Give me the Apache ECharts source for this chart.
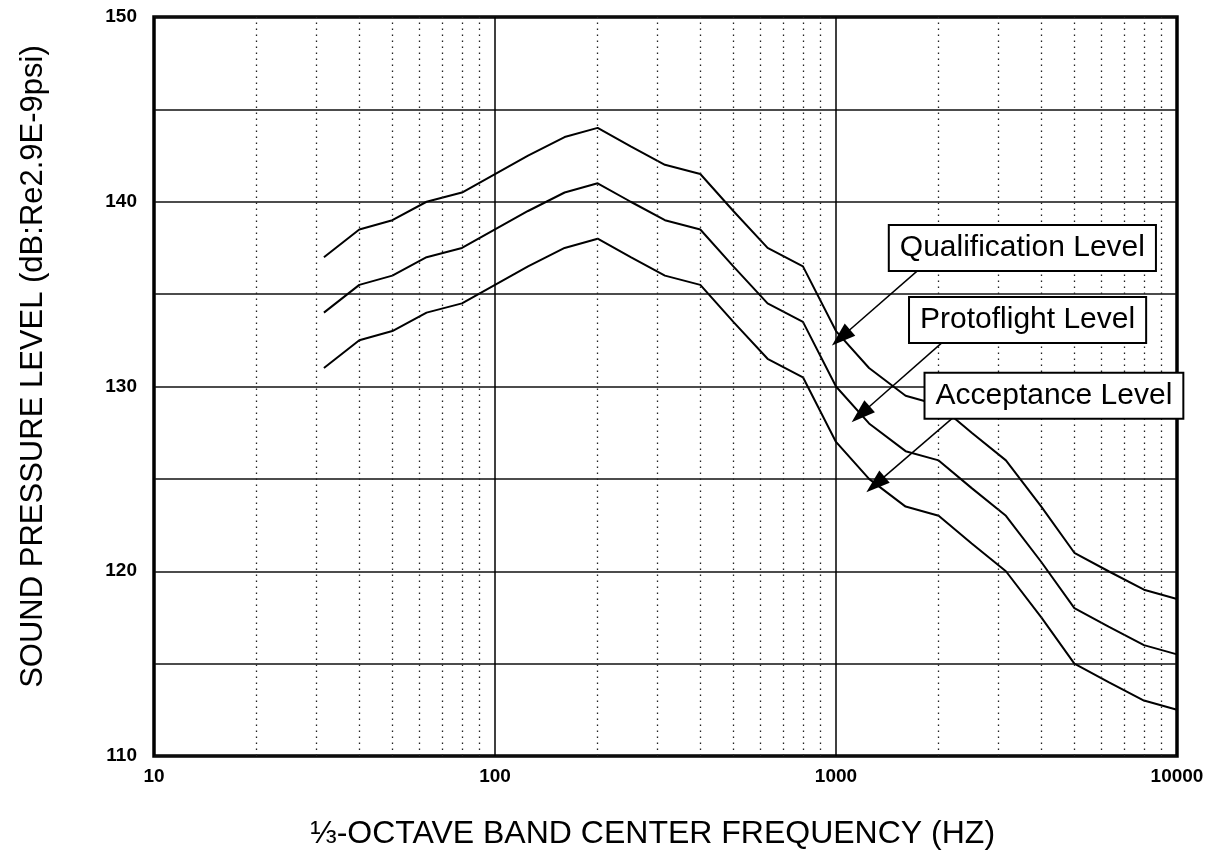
<!DOCTYPE html>
<html>
<head>
<meta charset="utf-8">
<script src="https://cdn.jsdelivr.net/npm/echarts@6/dist/echarts.min.js"></script>
<style>
  html, body { margin: 0; padding: 0; background: #fff; }
  #chart { width: 1221px; height: 861px; }
</style>
</head>
<body>
<div id="chart"></div>
<script>
// 1/3-octave band centre frequencies (Hz)
const freqs = [31.5, 40, 50, 63, 80, 100, 125, 160, 200, 250, 315, 400, 500,
  630, 800, 1000, 1250, 1600, 2000, 2500, 3150, 4000, 5000, 6300, 8000, 10000];

// sound pressure level (dB)
const qualification = [137, 138.5, 139, 140, 140.5, 141.5, 142.5, 143.5, 144, 143, 142, 141.5, 139.5,
  137.5, 136.5, 133, 131, 129.5, 129, 127.5, 126, 123.5, 121, 120, 119, 118.5];
const protoflight = [134, 135.5, 136, 137, 137.5, 138.5, 139.5, 140.5, 141, 140, 139, 138.5, 136.5,
  134.5, 133.5, 130, 128, 126.5, 126, 124.5, 123, 120.5, 118, 117, 116, 115.5];
const acceptance = [131, 132.5, 133, 134, 134.5, 135.5, 136.5, 137.5, 138, 137, 136, 135.5, 133.5,
  131.5, 130.5, 127, 125, 123.5, 123, 121.5, 120, 117.5, 115, 114, 113, 112.5];

// dotted minor grid on the log axis
const minorTicks = [20, 30, 40, 50, 60, 70, 80, 90,
  200, 300, 400, 500, 600, 700, 800, 900,
  2000, 3000, 4000, 5000, 6000, 7000, 8000, 9000];

// callout boxes: [label, freq, dB] and arrows: [from freq, from dB, to freq, to dB]
const calloutNames = ['Qualification Level', 'Protoflight Level', 'Acceptance Level'];
const calloutAt = [[3520, 137.5], [3646, 133.6], [4356, 129.5]];
const arrowFrom = [[1742, 136.3], [2082, 132.5], [2200, 128.3]];
const arrowTo = [[1034, 132.65], [1181, 128.5], [1305, 124.7]];

const SANS = "'Liberation Sans', Arial, Helvetica, sans-serif";

function pairs(ys) {
  return freqs.map((f, i) => [f, ys[i]]);
}

function levelSeries(name, ys) {
  return {
    name: name,
    type: 'line',
    data: pairs(ys),
    symbol: 'none',
    lineStyle: { color: '#000', width: 2 },
    z: 3
  };
}

const chart = echarts.init(document.getElementById('chart'));
chart.setOption({
  backgroundColor: '#fff',
  animation: false,
  grid: {
    left: 154, right: 44, top: 17, bottom: 105,
    outerBoundsMode: 'none',
    containLabel: false,
    show: true, borderColor: '#000', borderWidth: 3.5, backgroundColor: 'transparent'
  },
  xAxis: {
    type: 'log',
    logBase: 10,
    min: 10,
    max: 10000,
    name: '⅓-OCTAVE BAND CENTER FREQUENCY (HZ)',
    nameLocation: 'middle',
    nameGap: 62,
    nameTextStyle: { color: '#000', fontFamily: SANS, fontSize: 32, padding: [0, 26, 0, 0] },
    axisLine: { show: false },
    axisTick: { show: false },
    axisLabel: {
      color: '#000', fontFamily: SANS, fontWeight: 'bold', fontSize: 19, margin: 11,
      formatter: v => String(v)
    },
    splitLine: { show: true, lineStyle: { color: '#000', width: 1.5 } }
  },
  yAxis: {
    type: 'value',
    min: 110,
    max: 150,
    interval: 5,
    name: 'SOUND PRESSURE LEVEL (dB:Re2.9E-9psi)',
    nameLocation: 'middle',
    nameGap: 105,
    nameTextStyle: { color: '#000', fontFamily: SANS, fontSize: 31, padding: [0, 0, 0, 40] },
    axisLine: { show: false },
    axisTick: { show: false },
    axisLabel: {
      color: '#000', fontFamily: SANS, fontWeight: 'bold', fontSize: 19, margin: 17,
      formatter: v => (v % 10 === 0 ? String(v) : '')
    },
    splitLine: { show: true, lineStyle: { color: '#111', width: 1.5 } }
  },
  series: [
    {
      // minor verticals only
      type: 'line',
      data: [],
      silent: true,
      markLine: {
        silent: true,
        symbol: 'none',
        label: { show: false },
        lineStyle: { color: '#222', width: 1.3, type: [1.5, 4.5] },
        data: minorTicks.map(f => ({ xAxis: f }))
      }
    },
    levelSeries('Qualification Level', qualification),
    levelSeries('Protoflight Level', protoflight),
    levelSeries('Acceptance Level', acceptance),
    {
      // callouts
      type: 'line',
      data: [],
      z: 10,
      markLine: {
        silent: true,
        symbol: ['none', 'triangle'],
        symbolSize: [16, 24],
        label: { show: false },
        lineStyle: { color: '#000', width: 1.5, type: 'solid' },
        data: arrowFrom.map((a, i) => [{ coord: a }, { coord: arrowTo[i] }])
      },
      markPoint: {
        silent: true,
        symbol: 'rect',
        symbolSize: 1,
        itemStyle: { color: 'transparent' },
        label: {
          show: true,
          position: 'inside',
          formatter: '{b}',
          color: '#000',
          fontFamily: SANS,
          fontSize: 30,
          lineHeight: 32,
          backgroundColor: '#fff',
          borderColor: '#000',
          borderWidth: 2,
          padding: [6, 10, 6, 10]
        },
        data: calloutNames.map((n, i) => ({ name: n, coord: calloutAt[i] }))
      }
    }
  ]
});
</script>
</body>
</html>
